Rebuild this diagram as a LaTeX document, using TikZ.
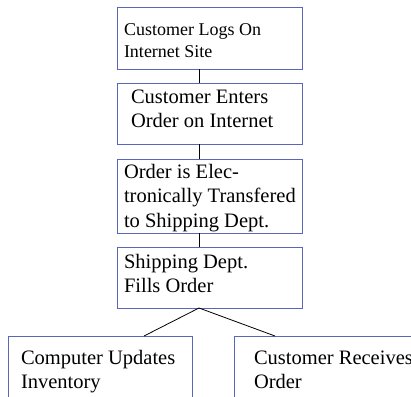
\documentclass[tikz,border=0pt]{standalone}
\usepackage{fontspec}
\setmainfont{Liberation Serif}
\definecolor{boxline}{HTML}{5A66B8}
\tikzset{
  box/.style={draw=boxline, line width=1pt, rectangle, inner sep=0pt, outer sep=0pt, anchor=north west},
  label text/.style={anchor=base west, inner sep=0pt, outer sep=0pt, text=black},
  link/.style={draw=black, line width=0.8pt},
}
\newcommand{\smalltxt}{\fontsize{18}{22}\selectfont}
\newcommand{\bigtxt}{\fontsize{20.5}{24.5}\selectfont}
\newcommand{\lines}[1]{\begin{tabular}[t]{@{}l@{}}#1\end{tabular}}
\begin{document}
\begin{tikzpicture}[x=1pt, y=-1pt]
  \useasboundingbox (0,0) rectangle (411,396);
  \clip (0,0) rectangle (411,396);
  \fill[white] (0,0) rectangle (411,396);

  % boxes of the flow
  \node[box, minimum width=185pt, minimum height=61pt] (b1) at (117,8) {};
  \node[box, minimum width=185pt, minimum height=61pt] (b2) at (117,83) {};
  \node[box, minimum width=185pt, minimum height=74pt] (b3) at (117,159) {};
  \node[box, minimum width=185pt, minimum height=61pt] (b4) at (117,247) {};
  \node[box, minimum width=184pt, minimum height=80pt] (b5) at (8,336) {};
  \node[box, minimum width=200pt, minimum height=80pt] (b6) at (234,336) {};

  % texts
  \node[label text, font=\smalltxt] (t1) at (124,35) {\lines{Customer Logs On\\Internet Site}};
  \node[label text, font=\bigtxt] (t2) at (131,103) {\lines{Customer Enters\\Order on Internet}};
  \node[label text, font=\bigtxt] (t3) at (124,178) {\lines{Order is Elec-\\tronically Transfered\\to Shipping Dept.}};
  \node[label text, font=\bigtxt] (t4) at (124,268) {\lines{Shipping Dept.\\Fills Order}};
  \node[label text, font=\bigtxt] (t5) at (21,364) {\lines{Computer Updates\\Inventory}};
  \node[label text, font=\bigtxt] (t6) at (254,364) {\lines{Customer Receives\\Order}};

  % connectors
  \coordinate (spine) at (199,0);
  \coordinate (leftfoot) at (144,0);
  \coordinate (rightfoot) at (275,0);
  \draw[link] (b1.south -| spine) -- (b2.north -| spine);
  \draw[link] (b2.south -| spine) -- (b3.north -| spine);
  \draw[link] (b3.south -| spine) -- (b4.north -| spine);
  \draw[link] (b4.south -| spine) -- (b5.north -| leftfoot);
  \draw[link] (b4.south -| spine) -- (b6.north -| rightfoot);
\end{tikzpicture}
\end{document}
